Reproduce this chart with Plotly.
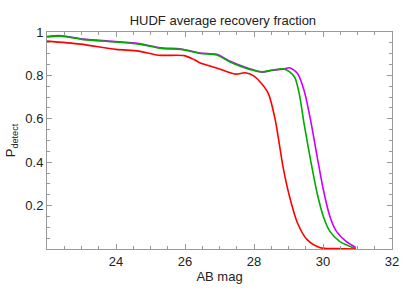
import plotly.graph_objects as go

title = "HUDF average recovery fraction"

red_x = [22.0, 22.97, 24.0, 24.66, 25.23, 25.98, 26.26, 26.44, 26.96, 27.46, 27.74, 28.0, 28.23, 28.42, 28.61, 28.7, 28.84, 29.03, 29.26, 29.54, 29.92, 30.4, 30.95]
red_y = [0.958, 0.944, 0.92, 0.912, 0.893, 0.891, 0.873, 0.857, 0.832, 0.806, 0.812, 0.797, 0.76, 0.715, 0.6, 0.518, 0.38, 0.242, 0.12, 0.043, 0.006, 0.002, 0.0]

green_x = [22.0, 22.4, 23.06, 23.9, 24.66, 25.32, 25.88, 26.44, 26.92, 27.29, 27.85, 28.23, 28.51, 28.89, 29.17, 29.31, 29.45, 29.64, 29.83, 30.01, 30.2, 30.48, 30.95]
green_y = [0.977, 0.981, 0.965, 0.955, 0.944, 0.924, 0.92, 0.901, 0.894, 0.863, 0.829, 0.817, 0.824, 0.829, 0.794, 0.717, 0.579, 0.41, 0.257, 0.15, 0.081, 0.035, 0.001]

magenta_x = [22.0, 22.4, 23.06, 23.9, 24.66, 25.32, 25.88, 26.44, 26.92, 27.29, 27.85, 28.23, 28.51, 28.89, 29.03, 29.26, 29.45, 29.64, 29.83, 30.01, 30.2, 30.39, 30.67, 30.95]
magenta_y = [0.979, 0.983, 0.967, 0.957, 0.947, 0.927, 0.922, 0.903, 0.897, 0.867, 0.832, 0.815, 0.823, 0.83, 0.835, 0.809, 0.732, 0.594, 0.426, 0.273, 0.15, 0.081, 0.035, 0.007]

x_ticks = [24, 26, 28, 30, 32]
y_ticks = [0.2, 0.4, 0.6, 0.8, 1]
y_labels = ["0.2", "0.4", "0.6", "0.8", "1"]

fig = go.Figure()
fig.add_trace(go.Scatter(x=magenta_x, y=magenta_y, mode="lines",
                         line=dict(color="#cc00ff", width=1.6, shape="spline", smoothing=0.8)))
fig.add_trace(go.Scatter(x=green_x, y=green_y, mode="lines",
                         line=dict(color="#00aa00", width=1.6, shape="spline", smoothing=0.8)))
fig.add_trace(go.Scatter(x=red_x, y=red_y, mode="lines",
                         line=dict(color="#ff0000", width=1.6, shape="spline", smoothing=0.8)))

font = "Liberation Sans, Arial, sans-serif"
fig.update_layout(
    width=409, height=298,
    margin=dict(l=46, r=10, t=32, b=49),
    paper_bgcolor="white", plot_bgcolor="white",
    showlegend=False,
    title=dict(text=title, x=0.545, xanchor="center", y=0.932, yanchor="middle",
               font=dict(family=font, size=13, color="#222")),
    font=dict(family=font, size=13, color="#222"),
)
fig.update_xaxes(range=[22, 32], tickvals=x_ticks, ticks="inside", ticklen=5,
                 tickcolor="#999", showline=True, linecolor="#999", mirror="ticks",
                 showgrid=False, zeroline=False,
                 minor=dict(dtick=0.5, tick0=22, ticks="inside", ticklen=3, tickcolor="#999"),
                 title=dict(text="AB mag", standoff=4, font=dict(size=13)),
                 tickfont=dict(size=13))
fig.update_yaxes(range=[0, 1], tickvals=y_ticks, ticktext=y_labels, ticks="inside", ticklen=5,
                 tickcolor="#999", showline=True, linecolor="#999", mirror="ticks",
                 showgrid=False, zeroline=False,
                 minor=dict(dtick=0.05, tick0=0, ticks="inside", ticklen=3, tickcolor="#999"),
                 title=dict(text="P<sub>detect</sub>", standoff=6, font=dict(size=13)),
                 tickfont=dict(size=13))

fig.write_html("out.html", config={"displayModeBar": False},
               post_script="document.body.style.margin='0';")
